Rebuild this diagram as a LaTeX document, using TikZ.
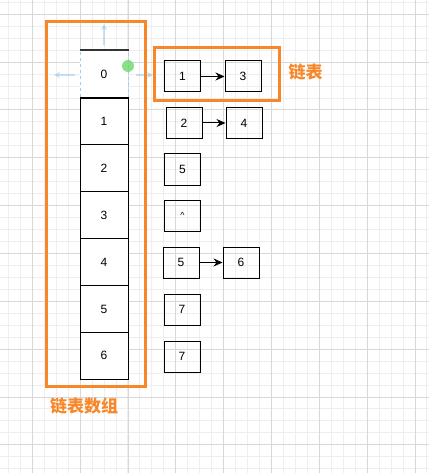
\documentclass[tikz,border=0pt]{standalone}
\usepackage{fontspec}
\setmainfont{Liberation Sans}
\newfontfamily\cjk{Noto Sans CJK SC}
\usepackage{tikz}
\usetikzlibrary{arrows.meta}
\definecolor{frame-orange}{RGB}{247,135,40}
\definecolor{grid-major}{RGB}{216,216,216}
\definecolor{grid-minor}{RGB}{238,238,238}
\definecolor{handle-blue}{RGB}{160,205,235}
\definecolor{handle-green}{RGB}{110,215,110}
\tikzstyle{cell}=[draw, line width=1pt, minimum width=48pt, minimum height=46.9pt, inner sep=0pt, font=\fontsize{12}{14}\selectfont]
\tikzstyle{item}=[draw, line width=1pt, minimum width=36pt, minimum height=31pt, inner sep=0pt, font=\fontsize{12}{14}\selectfont]
\tikzstyle{frame}=[draw=frame-orange, line width=3pt, minimum width=#1, inner sep=0pt]
\tikzstyle{link}=[line width=1pt, -{Stealth[length=9pt,width=8pt]}]
\tikzstyle{caption}=[text=frame-orange, font=\cjk\bfseries\fontsize{17}{20}\selectfont]
\tikzstyle{handle}=[handle-blue, line width=2pt, opacity=0.6, -{Stealth[length=6pt,width=6pt]}]

\begin{document}
\begin{tikzpicture}[x=1pt,y=-1pt]
	\useasboundingbox (0,0) rectangle (429,473);
	% background grid
	\foreach \k in {0,...,35} {
		\draw[grid-minor] ({8.08+\k*11.96},0) -- ({8.08+\k*11.96},473);
	}
	\foreach \k in {0,...,39} {
		\draw[grid-minor] (0,{2.04+\k*11.96}) -- (429,{2.04+\k*11.96});
	}
	\foreach \k in {0,...,8} {
		\draw[grid-major] ({32+\k*47.85},0) -- ({32+\k*47.85},473);
	}
	\foreach \k in {0,...,9} {
		\draw[grid-major] (0,{14+\k*47.85}) -- (429,{14+\k*47.85});
	}
	% array of heads
	\node[cell, fill=white, draw=handle-blue, dashed] (a0) at (104,74.45) {0};
	\foreach \v in {1,...,6}
		\node[cell, fill=white] (a\v) at (104,{74.45+\v*46.9}) {\v};
	\draw[line width=2pt, black!80] (a0.north west) -- (a0.north east);
	\draw[line width=1pt] (a0.south west) -- (a0.south east);
	% selection handles
	\draw[handle] (104,45) -- (104,24);
	\draw[handle] (75,75) -- (54,75);
	\draw[handle] (136,75) -- (153,75);
	\fill[handle-green, opacity=0.8] (128,66) circle (6);
	% lists
	\node[item] (b1) at (182.5,76.5) {1};
	\node[item] (b3) at (243,76.5) {3};
	\node[item] (c2) at (184,123) {2};
	\node[item] (c4) at (244,123) {4};
	\node[item] (d5) at (182.5,169.5) {5};
	\node[item] (e0) at (182.5,215.5) {\raisebox{-3pt}{\fontsize{9}{10}\selectfont\textasciicircum}};
	\node[item] (f5) at (181,262.5) {5};
	\node[item] (f6) at (241,262.5) {6};
	\node[item] (g7) at (182,309.5) {7};
	\node[item] (h7) at (182,356.5) {7};
	\draw[link] (b1) -- (b3);
	\draw[link] (c2) -- (c4);
	\draw[link] (f5) -- (f6);
	% orange frames
	\node[frame=99pt, minimum height=364pt] (arrayframe) at (95.5,204) {};
	\node[frame=125pt, minimum height=53pt] (listframe) at (216.5,74.5) {};
	\node[caption] (arraylabel) at (84,406.5) {链表数组};
	\node[caption] (listlabel) at (305.5,72) {链表};
\end{tikzpicture}
\end{document}
